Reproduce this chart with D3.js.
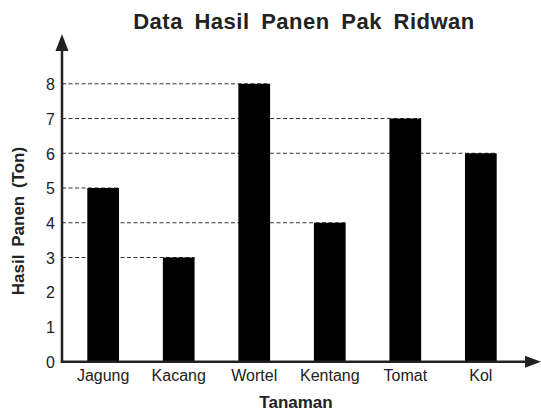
<!DOCTYPE html>
<meta charset="utf-8">
<head>
    <style>
        body { margin: 0; background: #fff; }
        .title { font-family: "Liberation Sans", Arial, sans-serif; font-weight: bold; font-size: 22px; fill: #222; letter-spacing: 0.5px; word-spacing: 5px; }
        .axis-label { font-family: "Liberation Sans", Arial, sans-serif; font-weight: bold; font-size: 17px; fill: #222; }
        .tick text { font-family: "Liberation Sans", Arial, sans-serif; font-size: 16px; fill: #222; }
        .guide { stroke: #333; stroke-width: 1; stroke-dasharray: 4,2.5; }
    </style>
    <script src="https://d3js.org/d3.v7.min.js"></script>
</head>
<body>
<svg id="chart"></svg>
<script>
    var width = 541, height = 413;

    // data
    var tanaman = ["Jagung", "Kacang", "Wortel", "Kentang", "Tomat", "Kol"];
    var panen = [5, 3, 8, 4, 7, 6];
    var yTicks = [0, 1, 2, 3, 4, 5, 6, 7, 8];

    var data = tanaman.map(function (d, i) { return {name: d, value: panen[i]}; });

    var x0 = 62, y0 = 361.7;

    var svg = d3.select("#chart")
        .attr("width", width)
        .attr("height", height);

    var x = d3.scaleBand()
        .domain(tanaman)
        .range([x0, 522])
        .paddingInner(0.58)
        .paddingOuter(0.335);

    var y = d3.scaleLinear()
        .domain([0, 8])
        .range([y0, 83.8]);

    // garis putus-putus dari sumbu ke ujung kanan batang
    svg.append("g")
        .selectAll("line")
        .data(data)
        .enter()
        .append("line")
        .attr("class", "guide")
        .attr("x1", x0)
        .attr("x2", function (d) { return x(d.name) + x.bandwidth(); })
        .attr("y1", function (d) { return y(d.value); })
        .attr("y2", function (d) { return y(d.value); });

    // batang
    svg.append("g")
        .selectAll("rect")
        .data(data)
        .enter()
        .append("rect")
        .attr("x", function (d) { return x(d.name); })
        .attr("y", function (d) { return y(d.value); })
        .attr("width", x.bandwidth())
        .attr("height", function (d) { return y0 - y(d.value); })
        .style("fill", "#000");

    // label sumbu
    var yAxis = svg.append("g")
        .attr("transform", "translate(" + x0 + ",0)")
        .call(d3.axisLeft(y).tickValues(yTicks).tickSize(0).tickPadding(7));
    yAxis.select(".domain").remove();
    yAxis.selectAll("text").attr("dy", "0.36em");

    var xAxis = svg.append("g")
        .attr("transform", "translate(0," + y0 + ")")
        .call(d3.axisBottom(x).tickSize(0).tickPadding(8));
    xAxis.select(".domain").remove();

    // sumbu dengan panah
    svg.append("line")
        .attr("x1", x0).attr("x2", x0)
        .attr("y1", y0 + 1.2).attr("y2", 48)
        .style("stroke", "#222").style("stroke-width", 2.5);
    svg.append("path")
        .attr("d", "M" + x0 + ",34 L" + (x0 - 6.5) + ",51 L" + (x0 + 6.5) + ",51 Z")
        .style("fill", "#222");

    svg.append("line")
        .attr("x1", x0 - 1.2).attr("x2", 528)
        .attr("y1", y0).attr("y2", y0)
        .style("stroke", "#222").style("stroke-width", 2.5);
    svg.append("path")
        .attr("d", "M541," + y0 + " L525," + (y0 - 6) + " L525," + (y0 + 6) + " Z")
        .style("fill", "#222");

    // judul
    svg.append("text")
        .attr("class", "title")
        .attr("x", 304)
        .attr("y", 29.3)
        .attr("text-anchor", "middle")
        .text("Data Hasil Panen Pak Ridwan");

    svg.append("text")
        .attr("class", "axis-label")
        .attr("x", 296)
        .attr("y", 408)
        .attr("text-anchor", "middle")
        .text("Tanaman");

    svg.append("text")
        .attr("class", "axis-label")
        .attr("transform", "translate(24,221) rotate(-90)")
        .attr("text-anchor", "middle")
        .style("word-spacing", "3px")
        .text("Hasil Panen (Ton)");
</script>
</body>
